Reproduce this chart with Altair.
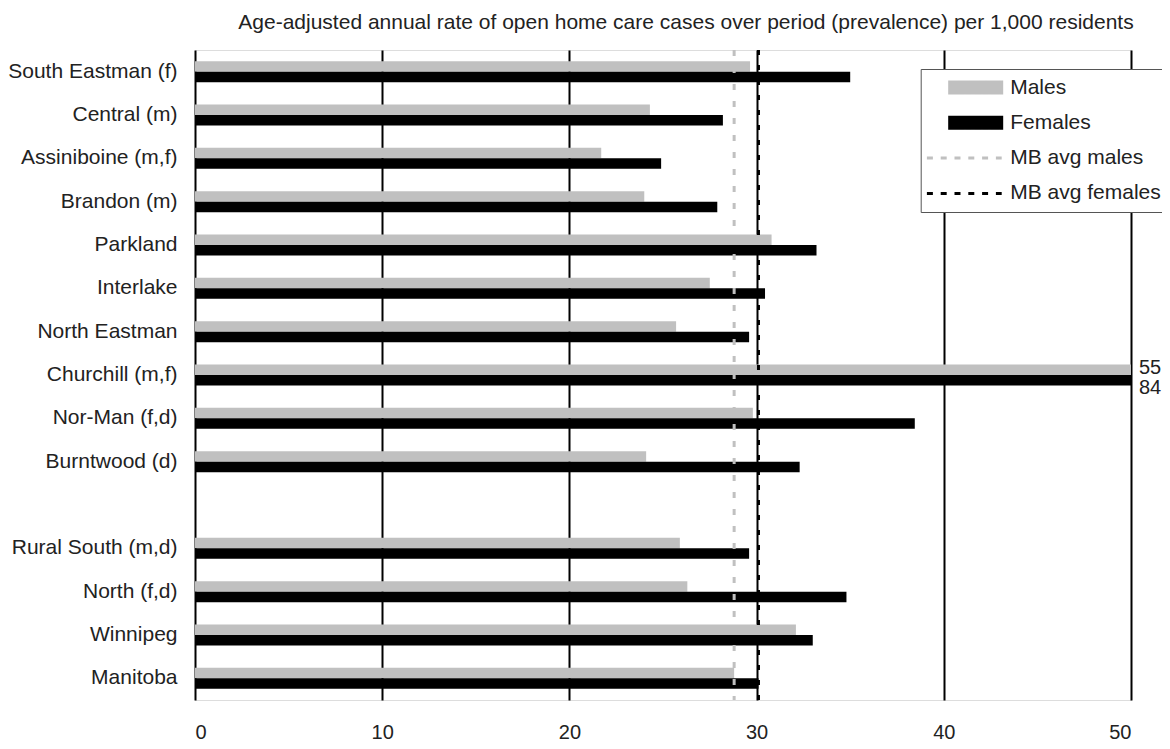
import altair as alt
import pandas as pd

FONT = "Liberation Sans"
NB = "\u00a0"

regions = ["South Eastman (f)", "Central (m)", "Assiniboine (m,f)", "Brandon (m)",
           "Parkland" + NB, "Interlake" + NB, "North Eastman" + NB, "Churchill (m,f)",
           "Nor-Man (f,d)", "Burntwood (d)", " ", "Rural South (m,d)", "North (f,d)",
           "Winnipeg", "Manitoba"]
males = [29.65, 24.3, 21.7, 24.0, 30.8, 27.5, 25.7, 55, 29.8, 24.1, None, 25.9, 26.3, 32.1, 28.8]
females = [35.0, 28.2, 24.9, 27.9, 33.2, 30.45, 29.6, 84, 38.45, 32.3, None, 29.6, 34.8, 33.0, 30.1]

avg_names = ["MB avg males", "MB avg females"]
avg_values = [28.8, 30.1]

series_names = ["Males", "Females", "MB avg males", "MB avg females"]
series_colors = ["#c0c0c0", "#000000", "#c0c0c0", "#000000"]
x_ticks = [0, 10, 20, 30, 40, 50]

title_text = ("Age-adjusted annual rate of open home care cases over period "
              "(prevalence) per 1,000 residents")

rows = []
for r, m, f in zip(regions, males, females):
    if m is not None:
        rows.append({"region": r, "series": "Males", "value": m})
    if f is not None:
        rows.append({"region": r, "series": "Females", "value": f})
df = pd.DataFrame(rows)
avg_df = pd.DataFrame({"series": avg_names, "value": avg_values})

is_avg = "indexof(datum.value, 'MB') === 0"
is_grey = "(datum.value === 'Males' || datum.value === 'MB avg males')"
legend = alt.Legend(
    title=None,
    orient="none",
    legendX=725.7,
    legendY=19,
    direction="vertical",
    symbolType=alt.ExprRef(expr=f"{is_avg} ? 'M-0.943,0H1' : 'M-0.351,-0.143H1V0.143H-0.351Z'"),
    symbolSize=5929,
    symbolStrokeWidth=3,
    symbolStrokeColor=alt.ExprRef(expr=f"{is_grey} ? '#c0c0c0' : '#000000'"),
    symbolFillColor=alt.ExprRef(expr=f"{is_grey} ? '#c0c0c0' : '#000000'"),
    symbolDash=alt.ExprRef(expr=f"{is_avg} ? [6, 7.8] : [1, 0]"),
    symbolOpacity=1,
    clipHeight=32,
    rowPadding=3.3,
    padding=2.5,
    strokeColor="#555555",
    fillColor="white",
    labelFont=FONT,
    labelFontSize=21,
    labelColor="#222222",
    labelOffset=7,
    labelLimit=400,
    zindex=1,
)

x_scale = alt.Scale(domain=[0, 50], clamp=True, nice=False, zero=True)
x_axis = alt.Axis(values=x_ticks, grid=True, gridColor="black", gridWidth=2, ticks=False,
                  domain=False, labelFontSize=20, labelPadding=22, labelColor="#222222",
                  labelFont=FONT, title=None)
y_scale = alt.Scale(domain=regions, paddingInner=0.515, paddingOuter=0.2575)
y_axis = alt.Axis(ticks=False, domain=False, labelFontSize=21, labelPadding=18,
                  labelColor="#222222", labelFont=FONT, title=None, labelLimit=400)

bars = alt.Chart(df).mark_bar().encode(
    x=alt.X("value:Q", scale=x_scale, axis=x_axis),
    y=alt.Y("region:N", sort=regions, scale=y_scale, axis=y_axis),
    yOffset=alt.YOffset("series:N", sort=["Males", "Females"],
                        scale=alt.Scale(domain=["Males", "Females"])),
    color=alt.Color("series:N", scale=alt.Scale(domain=series_names, range=series_colors),
                    legend=legend),
)

rule_m = alt.Chart(avg_df).transform_filter(alt.datum.series == "MB avg males").mark_rule(
    strokeWidth=3, strokeDash=[6, 11]).encode(
    x=alt.X("value:Q"), color=alt.Color("series:N"))
rule_f = alt.Chart(avg_df).transform_filter(alt.datum.series == "MB avg females").mark_rule(
    strokeWidth=3, strokeDash=[5, 10]).encode(
    x=alt.X("value:Q"), color=alt.Color("series:N"))

def value_text(series, dy):
    return alt.Chart(df).transform_filter(
        f"datum.value > 50 && datum.series === '{series}'"
    ).mark_text(align="left", baseline="middle", dx=8, dy=dy, fontSize=20,
                font=FONT, color="#222222").encode(
        x=alt.X("value:Q"),
        y=alt.Y("region:N", sort=regions),
        yOffset=alt.YOffset("series:N", sort=["Males", "Females"]),
        text=alt.Text("value:Q", format=".0f"),
    )

chart = alt.layer(bars, rule_m, rule_f, value_text("Males", -2), value_text("Females", 8)).properties(
    width=936,
    height=650,
    title=alt.TitleParams(text=title_text, fontSize=21, font=FONT, fontWeight="normal",
                          color="#222222", anchor="middle", dx=23, offset=16),
    padding={"left": 187, "top": 42, "right": 31, "bottom": 41},
    autosize=alt.AutoSizeParams(type="none"),
).configure_view(stroke="black", strokeWidth=2).configure(font=FONT)

chart.save("out.html", embed_options={"renderer": "svg", "actions": False})
